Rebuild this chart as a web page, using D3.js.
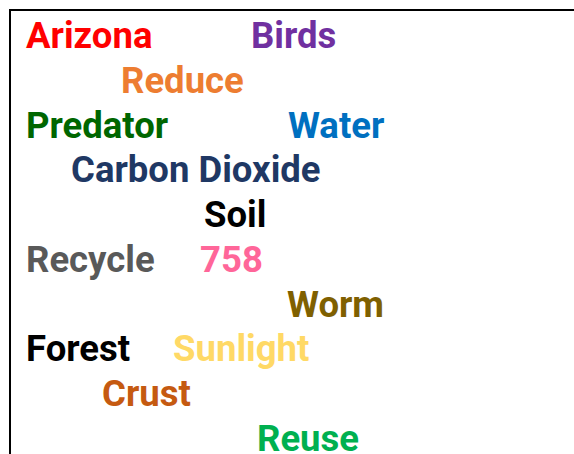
<!DOCTYPE html>
<html>
<head>
<meta charset="utf-8">
<script src="https://cdn.jsdelivr.net/npm/d3@7"></script>
<style>
  html, body { margin: 0; padding: 0; background: #ffffff; overflow: hidden; }
  svg { display: block; }
</style>
</head>
<body>
<svg id="chart" width="574" height="454"></svg>
<script>
// Word cloud data
const words  = ["Arizona", "Birds", "Reduce", "Predator", "Water", "Carbon Dioxide", "Soil",
                "Recycle", "758", "Worm", "Forest", "Sunlight", "Crust", "Reuse"];
const rows   = [0, 0, 1, 2, 2, 3, 4, 5, 5, 6, 7, 7, 8, 9];
const cols   = [0, 225, 95, 0, 262, 45, 178, 0, 174, 261, 0, 147, 76, 231];
const colors = ["#FF0000", "#7030A0", "#ED7D31", "#006600", "#0070C0", "#1F3864", "#000000",
                "#595959", "#FF6699", "#7F6000", "#000000", "#FFD966", "#C55A11", "#00B050"];

const data = words.map((w, i) => ({ word: w, row: rows[i], col: cols[i], color: colors[i] }));

const width = 574, height = 454;
const svg = d3.select("#chart");

// frame
const frameLeft = 10, frameTop = 10;
svg.append("path")
  .attr("d", `M${frameLeft},${height + 5} L${frameLeft},${frameTop} L${width + 5},${frameTop}`)
  .attr("fill", "none")
  .attr("stroke", "#000")
  .attr("stroke-width", 2);

const x = d3.scaleLinear().domain([0, 548]).range([26, 574]);
const y = d3.scaleLinear().domain([0, 9]).range([48, 451]);

svg.append("g")
  .selectAll("text")
  .data(data)
  .join("text")
  .attr("x", d => x(d.col))
  .attr("y", d => y(d.row))
  .attr("fill", d => d.color)
  .attr("font-family", "Roboto, 'DejaVu Sans Condensed', sans-serif")
  .attr("font-weight", 700)
  .attr("font-size", 36.5)
  .text(d => d.word);
</script>
</body>
</html>
